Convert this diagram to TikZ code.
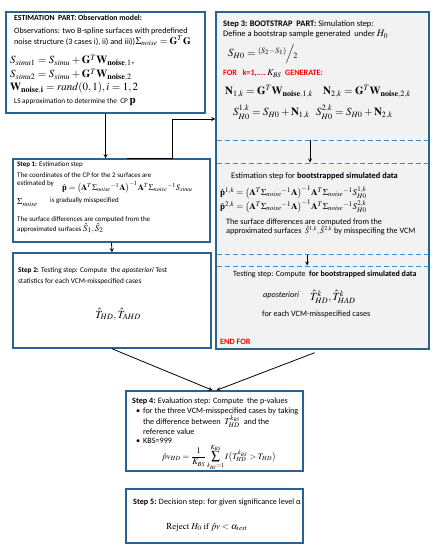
\documentclass[tikz,border=0pt]{standalone}
\usepackage{amsmath,amssymb}
\usepackage{mathptmx}
\usepackage[no-math]{fontspec}
\setmainfont{Carlito}
\usepackage{xcolor}
\usepackage{tikz}

\definecolor{frameblue}{RGB}{41,98,148}
\definecolor{dashblue}{RGB}{62,142,206}
\definecolor{panelgray}{RGB}{242,242,242}

\newcommand{\Sn}{\boldsymbol{\Sigma}_{noise}}

\begin{document}
\begin{tikzpicture}[
    x=1bp, y=-1bp,
    box/.style={rectangle, draw=frameblue, line width=1.5pt, inner sep=0pt},
    txt/.style={anchor=base west, inner sep=0pt, font=\fontsize{8.2}{10}\selectfont},
    txts/.style={txt, font=\fontsize{7}{9}\selectfont},
    mth/.style={anchor=base west, inner sep=0pt, font=\fontsize{11}{13}\selectfont},
    dashsep/.style={draw=dashblue, line width=1pt, dash pattern=on 5pt off 3pt},
    arrow/.style={->, >=stealth, line width=0.8pt}
]
    \useasboundingbox (0,0) rectangle (435,550);

    % Boxes
    \node[box, fill=panelgray, minimum width=213bp, minimum height=337bp] (boot) at (322.5,180.5) {};
    \node[box, minimum width=199bp, minimum height=101bp] (est) at (105.5,62.5) {};
    \node[box, minimum width=197bp, minimum height=83bp] (step1) at (111.5,200.5) {};
    \node[box, minimum width=198bp, minimum height=95bp] (step2) at (112,300.5) {};
    \node[box, minimum width=177bp, minimum height=80bp] (step4) at (214.5,431) {};
    \node[box, minimum width=177bp, minimum height=54bp] (step5) at (214.5,516) {};

    % Estimation part
    \node[txt, font=\fontsize{7.8}{9}\selectfont\bfseries] (estT) at (14,20.5) {ESTIMATION\ \ PART: Observation model:};
    \node[txt] (estA) at (14,34) {Observations: two B-spline surfaces with predefined};
    \node[txt] (estB) at (14,44.5) {noise structure (3 cases i), ii) and iii))};
    \node[mth, font=\fontsize{10}{12}\selectfont] (estC) at (estB.base east) {$\Sn=\mathbf{G}^T\mathbf{G}$};
    \node[mth] (estD) at (10,64) {$S_{simu1} = S_{simu} + \mathbf{G}^T\mathbf{W}_{\mathbf{noise},1}$,};
    \node[mth] (estE) at (10,78) {$S_{simu2} = S_{simu} + \mathbf{G}^T\mathbf{W}_{\mathbf{noise},2}$};
    \node[mth] (estF) at (10,91) {$\mathbf{W}_{\mathbf{noise,i}} = rand(0,1), i=1,2$};
    \node[txt, font=\fontsize{7.3}{9}\selectfont] (estG) at (14,104) {LS approximation to determine the\ \ CP \fontsize{11}{13}\selectfont$\mathbf{p}$};

    % Bootstrap part
    \node[txt, font=\fontsize{8.5}{10}\selectfont] (bootT) at (223,26.5) {\textbf{Step 3: BOOTSTRAP\ \ PART:} Simulation step:};
    \node[txt, font=\fontsize{8.5}{10}\selectfont] (bootA) at (223,36.5) {Define a bootstrap sample generated\ \ under \fontsize{10}{12}\selectfont$H_0$};
    \node[mth] (bootB) at (228,57) {$S_{H0} = {}^{(S_2-S_1)}\!\Big/\!{}_{2}$};
    \node[txt, text=red, font=\fontsize{8.2}{10}\selectfont\bfseries] (bootC) at (223,76) {FOR\ \ \ k=1,....\ \textcolor{black}{\fontsize{9}{11}\selectfont$K_{BS}$}\ \ GENERATE:};
    \node[mth] (bootD) at (225,94.5) {$\mathbf{N}_{1,k} = \mathbf{G}^T\mathbf{W}_{\mathbf{noise},1,k}$};
    \node[mth] (bootE) at (323,94.5) {$\mathbf{N}_{2,k} = \mathbf{G}^T\mathbf{W}_{\mathbf{noise},2,k}$};
    \node[mth] (bootF) at (233,116) {$S^{1,k}_{H0} = S_{H0} + \mathbf{N}_{1,k}$};
    \node[mth] (bootG) at (316,116) {$S^{2,k}_{H0} = S_{H0} + \mathbf{N}_{2,k}$};

    \draw[dashsep] (217,140) -- (429,140);
    \draw[dashsep] (217,163) -- (429,163);
    \coordinate (d1) at (310,140.5);
    \coordinate (d2) at (310,162.5);
    \draw[arrow] (d1) -- (d2);

    \node[txt, font=\fontsize{8.4}{10}\selectfont] (bestT) at (231,179) {Estimation step for \textbf{bootstrapped simulated data}};
    \node[mth, font=\fontsize{9}{11}\selectfont] (bestA) at (220,195.5) {$\hat{\mathbf{p}}^{1,k} = \bigl(\mathbf{A}^T\Sn{}^{-1}\mathbf{A}\bigr)^{-1}\mathbf{A}^T\Sn{}^{-1}S^{1,k}_{H0}$};
    \node[mth, font=\fontsize{9}{11}\selectfont] (bestB) at (220,209.5) {$\hat{\mathbf{p}}^{2,k} = \bigl(\mathbf{A}^T\Sn{}^{-1}\mathbf{A}\bigr)^{-1}\mathbf{A}^T\Sn{}^{-1}S^{2,k}_{H0}$};
    \node[txt] (bestC) at (226,224) {The surface differences are computed\ from the};
    \node[txt] (bestD) at (226,233) {approximated surfaces\ \ \fontsize{8}{10}\selectfont$\hat{S}^{1,k},\hat{S}^{2,k}$\fontsize{8.2}{10}\selectfont\ by misspecifing the VCM};

    \draw[dashsep] (217,254) -- (429,254);
    \draw[dashsep] (217,266) -- (429,266);
    \coordinate (d3) at (307,254.5);
    \coordinate (d4) at (307,265.5);
    \draw[arrow] (d3) -- (d4);

    \node[txt, font=\fontsize{8}{10}\selectfont] (btstT) at (233,276) {Testing step: Compute\ \ \textbf{for bootstrapped simulated data}};
    \node[txt] (btstA) at (263,297) {\textit{aposteriori}};
    \node[mth] (btstB) at (310,300) {$\hat{T}^k_{HD},\hat{T}^k_{HAD}$};
    \node[txt] (btstC) at (262,316) {for each VCM-misspecified cases};
    \node[txt, text=red, font=\fontsize{8.2}{10}\selectfont\bfseries] (endfor) at (220,344) {END FOR};

    % Step 1
    \node[txts] (s1T) at (17,167) {\textbf{Step 1:} Estimation step};
    \node[txts] (s1A) at (17,177.5) {The coordinates of the CP for the 2 surfaces are};
    \node[txts] (s1B) at (17,186) {estimated by};
    \node[mth, font=\fontsize{8.5}{10}\selectfont] (s1C) at (62,190.5) {$\hat{\mathbf{p}} = \bigl(\mathbf{A}^T\Sn{}^{-1}\mathbf{A}\bigr)^{-1}\mathbf{A}^T\Sn{}^{-1}S_{simu}$};
    \node[mth, font=\fontsize{9}{11}\selectfont] (s1D) at (17,205) {$\Sn$};
    \node[txts] (s1E) at (50,203) {is gradually misspecified};
    \node[txts] (s1F) at (17,221) {The surface differences are computed from the};
    \node[txts] (s1G) at (17,231) {approximated surfaces \fontsize{9}{11}\selectfont$\hat{S}_1,\hat{S}_2$};

    % Step 2
    \node[txt, font=\fontsize{7.3}{9}\selectfont] (s2T) at (18,272) {\textbf{Step 2:} Testing step: Compute\ \ the \textit{aposteriori} Test};
    \node[txt, font=\fontsize{7.3}{9}\selectfont] (s2A) at (18,283) {statistics for each VCM-misspecified cases};
    \node[mth, anchor=base] (s2B) at (118,318) {$\hat{T}_{HD},\hat{T}_{AHD}$};

    % Step 4
    \node[txt] (s4T) at (132,403) {\textbf{Step 4:} Evaluation step: Compute\ \ the p-values};
    \node[txt] (s4b1) at (136,413) {•};
    \node[txt] (s4A) at (143,413) {for the three VCM-misspecified cases by taking};
    \node[txt] (s4B) at (143,424.5) {the difference between\ \ \fontsize{9}{11}\selectfont$T^{k_{BS}}_{HD}$\fontsize{8.2}{10}\selectfont\ \ and the};
    \node[txt] (s4C) at (143,434) {reference value};
    \node[txt] (s4b2) at (136,443) {•};
    \node[txt] (s4D) at (143,443) {KBS=999};
    \node[mth, anchor=base, font=\fontsize{8.5}{10}\selectfont] (s4E) at (219,459) {$\displaystyle \hat{p}v_{HD} = \frac{1}{K_{BS}}\sum_{k_{BS}=1}^{K_{BS}} I\bigl(T_{HD}^{k_{BS}} > T_{HD}\bigr)$};

    % Step 5
    \node[txt] (s5T) at (133,504) {\textbf{Step 5:} Decision step: for given significance level α};
    \node[mth, anchor=base, font=\fontsize{9}{11}\selectfont] (s5A) at (207,529) {$\mathrm{Reject}\ H_0\ \mathrm{if}\ \hat{p}v<\alpha_{test}$};

    % Arrows
    \draw[arrow] (est.south) -- (est.south |- step1.north);
    \coordinate (bend) at (172,119);
    \draw[arrow] ([xshift=15bp]step1.north) -| (bend) -- (bend -| boot.west);
    \draw[arrow] (step1.south) -- (step2.north);
    \draw[arrow] (step2.south) -- ([xshift=-2bp]step4.north);
    \draw[arrow] ([xshift=-8bp,yshift=-3bp]boot.south) -- ([xshift=2bp]step4.north);
\end{tikzpicture}
\end{document}
